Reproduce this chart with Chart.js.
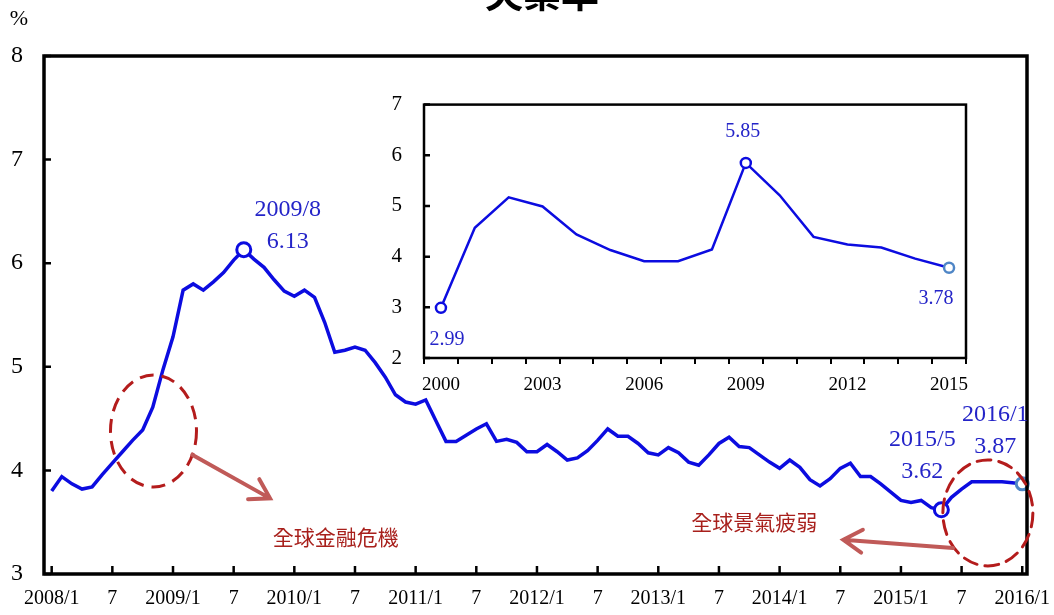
<!DOCTYPE html>
<html>
<head>
<meta charset="utf-8">
<script src="https://cdn.jsdelivr.net/npm/chart.js@4.4.1/dist/chart.umd.min.js"></script>
<style>
  html, body { margin: 0; padding: 0; background: #ffffff; }
  #wrap { position: relative; width: 1054px; height: 615px; overflow: hidden; background: #ffffff; }
  #main { position: absolute; left: 0; top: 0; }
  #inset { position: absolute; left: 370px; top: 70px; }
</style>
</head>
<body>
<div id="wrap">
  <canvas id="main" width="1054" height="615"></canvas>
  <canvas id="inset" width="620" height="340"></canvas>
</div>
<script>
// ---- Monthly unemployment rate (%), 2008/1 – 2016/1 ----
const tickLabels = ['2008/1','7','2009/1','7','2010/1','7','2011/1','7','2012/1','7',
                    '2013/1','7','2014/1','7','2015/1','7','2016/1'];
const monthlyRate = [
  3.80, 3.94, 3.87, 3.82, 3.84, 3.96, 4.07, 4.18, 4.29, 4.39, 4.61, 4.97,   // 2008
  5.29, 5.74, 5.80, 5.74, 5.82, 5.91, 6.03, 6.13, 6.04, 5.96, 5.84, 5.73,   // 2009
  5.68, 5.74, 5.67, 5.43, 5.14, 5.16, 5.19, 5.16, 5.04, 4.90, 4.73, 4.66,   // 2010
  4.64, 4.68, 4.48, 4.28, 4.28, 4.34, 4.40, 4.45, 4.28, 4.30, 4.27, 4.18,   // 2011
  4.18, 4.25, 4.18, 4.10, 4.12, 4.19, 4.29, 4.40, 4.33, 4.33, 4.26, 4.17,   // 2012
  4.15, 4.22, 4.17, 4.08, 4.05, 4.15, 4.26, 4.32, 4.23, 4.22, 4.15, 4.08,   // 2013
  4.02, 4.10, 4.03, 3.91, 3.85, 3.92, 4.02, 4.07, 3.94, 3.94, 3.87, 3.79,   // 2014
  3.71, 3.69, 3.71, 3.64, 3.62, 3.74, 3.82, 3.89, 3.89, 3.89, 3.89, 3.88,   // 2015
  3.87                                                                      // 2016/1
];
const startYear = 2008;
const highlightMonths = ['2009/8', '2015/5', '2016/1'];

// ---- Annual averages (%), 2000 – 2015 ----
const years = [2000, 2001, 2002, 2003, 2004, 2005, 2006, 2007,
               2008, 2009, 2010, 2011, 2012, 2013, 2014, 2015];
const annualRate = [2.99, 4.57, 5.17, 4.99, 4.44, 4.13, 3.91, 3.91,
                    4.14, 5.85, 5.21, 4.39, 4.24, 4.18, 3.96, 3.78];
const highlightYears = [2000, 2009, 2015];

// ---- Styling ----
const BLUE = '#0c0ce0';
const LABEL_BLUE = '#2424c8';
const LIGHT_BLUE = '#4f86c6';
const SERIF = '"Liberation Serif", "Times New Roman", serif';
const CJK = '"Noto Sans CJK TC", "Noto Sans CJK SC", sans-serif';

const monthIndex = s => {
  const [y, m] = s.split('/').map(Number);
  return (y - startYear) * 12 + (m - 1);
};
const hlIdx = highlightMonths.map(monthIndex);

// callout text placement (pixel offsets from the marked point)
const mainCallouts = [
  { idx: hlIdx[0], dx: 44, dy: -40, color: LABEL_BLUE },
  { idx: hlIdx[1], dx: -19, dy: -70, color: LABEL_BLUE },
  { idx: hlIdx[2], dx: -27, dy: -69, color: LABEL_BLUE }
];

// event notes: dashed ring, arrow and caption, anchored in data units
const eventNotes = [
  { text: '全球金融危機', ring: { m: 10.07, v: 4.38, rx: 43, ry: 56 },
    arrow: { from: [13.9, 4.15], to: [21.6, 3.73] }, label: { m: 28.1, v: 3.36 } },
  { text: '全球景氣疲弱', ring: { m: 92.6, v: 3.59, rx: 45, ry: 53 },
    arrow: { from: [89.15, 3.25], to: [78.3, 3.33] }, label: { m: 69.5, v: 3.50 } }
];

// ---- shared plugins ----
const framePlugin = {
  id: 'frame',
  afterDraw(chart, args, opts) {
    const { ctx, chartArea: a } = chart;
    ctx.save();
    ctx.strokeStyle = '#000';
    ctx.lineWidth = opts.width || 3;
    ctx.strokeRect(a.left, a.top, a.right - a.left, a.bottom - a.top);
    ctx.restore();
  }
};

const inwardTicksPlugin = {
  id: 'inwardTicks',
  afterDraw(chart, args, opts) {
    const { ctx, chartArea: a } = chart;
    ctx.save();
    ctx.strokeStyle = '#000';
    ctx.lineWidth = opts.width || 2;
    ctx.beginPath();
    if (opts.x) {
      const xs = chart.scales.x;
      xs.ticks.forEach(t => {
        const px = xs.getPixelForValue(t.value);
        ctx.moveTo(px, a.bottom);
        ctx.lineTo(px, a.bottom - opts.x);
      });
    }
    if (opts.y) {
      const ys = chart.scales.y;
      ys.ticks.forEach(t => {
        const py = ys.getPixelForValue(t.value);
        ctx.moveTo(a.left, py);
        ctx.lineTo(a.left + opts.y, py);
      });
    }
    ctx.stroke();
    ctx.restore();
  }
};

function drawArrow(ctx, x0, y0, x1, y1, head) {
  const ang = Math.atan2(y1 - y0, x1 - x0);
  ctx.beginPath();
  ctx.moveTo(x0, y0);
  ctx.lineTo(x1, y1);
  ctx.moveTo(x1 - head * Math.cos(ang - 0.55), y1 - head * Math.sin(ang - 0.55));
  ctx.lineTo(x1, y1);
  ctx.lineTo(x1 - head * Math.cos(ang + 0.55), y1 - head * Math.sin(ang + 0.55));
  ctx.stroke();
}

// ---- main chart decorations ----
const mainNotesPlugin = {
  id: 'mainNotes',
  afterDraw(chart) {
    const { ctx } = chart;
    const xs = chart.scales.x, ys = chart.scales.y;
    ctx.save();

    // title and unit
    ctx.fillStyle = '#000';
    ctx.font = `bold 38px ${CJK}`;
    ctx.textAlign = 'center';
    ctx.textBaseline = 'alphabetic';
    ctx.fillText('失業率', 542, 7);
    ctx.font = `22px ${SERIF}`;
    ctx.textBaseline = 'middle';
    ctx.fillText('%', 19, 19);

    // event rings, arrows, captions
    eventNotes.forEach(n => {
      const cx = xs.getPixelForValue(n.ring.m), cy = ys.getPixelForValue(n.ring.v);
      ctx.strokeStyle = '#b41c1c';
      ctx.lineWidth = 3;
      ctx.setLineDash([14, 8]);
      ctx.beginPath();
      ctx.ellipse(cx, cy, n.ring.rx, n.ring.ry, 0, 0, Math.PI * 2);
      ctx.stroke();
      ctx.setLineDash([]);

      ctx.strokeStyle = '#c05a58';
      ctx.lineWidth = 4;
      ctx.lineCap = 'round';
      drawArrow(ctx,
        xs.getPixelForValue(n.arrow.from[0]), ys.getPixelForValue(n.arrow.from[1]),
        xs.getPixelForValue(n.arrow.to[0]), ys.getPixelForValue(n.arrow.to[1]), 22);

      ctx.fillStyle = '#a8201c';
      ctx.font = `21px ${CJK}`;
      ctx.textAlign = 'center';
      ctx.textBaseline = 'middle';
      ctx.fillText(n.text, xs.getPixelForValue(n.label.m), ys.getPixelForValue(n.label.v));
    });

    // callouts on the marked months
    ctx.font = `24px ${SERIF}`;
    ctx.textAlign = 'center';
    ctx.textBaseline = 'middle';
    mainCallouts.forEach(c => {
      const px = xs.getPixelForValue(c.idx), py = ys.getPixelForValue(monthlyRate[c.idx]);
      const y = startYear + Math.floor(c.idx / 12), m = c.idx % 12 + 1;
      ctx.fillStyle = c.color;
      ctx.fillText(`${y}/${m}`, px + c.dx, py + c.dy);
      ctx.fillText(monthlyRate[c.idx].toFixed(2), px + c.dx, py + c.dy + 32);
    });
    ctx.restore();
  }
};

new Chart(document.getElementById('main'), {
  type: 'line',
  data: {
    datasets: [{
      data: monthlyRate.map((v, i) => ({ x: i, y: v })),
      borderColor: BLUE,
      borderWidth: 3.5,
      tension: 0,
      clip: false,
      pointRadius: c => (hlIdx.includes(c.dataIndex) ? (c.dataIndex === hlIdx[2] ? 6 : 7) : 0),
      pointBorderWidth: 3,
      pointBackgroundColor: '#ffffff',
      pointBorderColor: c => (c.dataIndex === hlIdx[2] ? LIGHT_BLUE : BLUE),
      pointHoverRadius: 0
    }]
  },
  options: {
    responsive: false,
    animation: false,
    events: [],
    layout: { padding: { left: 0, right: 27, top: 56, bottom: 0 } },
    plugins: {
      legend: { display: false },
      tooltip: { enabled: false },
      frame: { width: 3.5 },
      inwardTicks: { x: 8, y: 7, width: 2.5 }
    },
    scales: {
      x: {
        type: 'linear',
        min: -0.76,
        max: 96.47,
        border: { display: false },
        grid: { display: false, drawTicks: false },
        afterBuildTicks: s => { s.ticks = tickLabels.map((_, i) => ({ value: i * 6 })); },
        afterFit: s => { s.height = 41; s.paddingLeft = 0; s.paddingRight = 0; },
        ticks: {
          autoSkip: false,
          maxRotation: 0,
          padding: 13,
          color: '#000',
          font: { family: SERIF, size: 20 },
          callback: (v, i) => tickLabels[i]
        }
      },
      y: {
        min: 3,
        max: 8,
        border: { display: false },
        grid: { display: false, drawTicks: false },
        afterFit: s => { s.width = 44; },
        ticks: {
          stepSize: 1,
          padding: 21,
          color: '#000',
          font: { family: SERIF, size: 24 }
        }
      }
    }
  },
  plugins: [framePlugin, inwardTicksPlugin, mainNotesPlugin]
});

// ---- inset: annual averages ----
const insetCallouts = [
  { year: 2000, dx: 6, dy: 32 },
  { year: 2009, dx: -3, dy: -31 },
  { year: 2015, dx: -13, dy: 31 }
];
const insetNotesPlugin = {
  id: 'insetNotes',
  afterDraw(chart) {
    const { ctx } = chart;
    const xs = chart.scales.x, ys = chart.scales.y;
    ctx.save();
    ctx.font = `20px ${SERIF}`;
    ctx.fillStyle = LABEL_BLUE;
    ctx.textAlign = 'center';
    ctx.textBaseline = 'middle';
    insetCallouts.forEach(c => {
      const i = years.indexOf(c.year);
      const px = xs.getPixelForValue(i), py = ys.getPixelForValue(annualRate[i]);
      ctx.fillText(annualRate[i].toFixed(2), px + c.dx, py + c.dy);
    });
    ctx.restore();
  }
};
const hlYearIdx = highlightYears.map(y => years.indexOf(y));

new Chart(document.getElementById('inset'), {
  type: 'line',
  data: {
    labels: years.map(String),
    datasets: [{
      data: annualRate,
      borderColor: BLUE,
      borderWidth: 2.5,
      tension: 0,
      clip: false,
      pointRadius: c => (hlYearIdx.includes(c.dataIndex) ? 5 : 0),
      pointBorderWidth: 2.5,
      pointBackgroundColor: '#ffffff',
      pointBorderColor: c => (c.dataIndex === hlYearIdx[2] ? LIGHT_BLUE : BLUE),
      pointHoverRadius: 0
    }]
  },
  options: {
    responsive: false,
    animation: false,
    events: [],
    layout: { padding: { left: 0, right: 24, top: 14, bottom: 0 } },
    plugins: {
      legend: { display: false },
      tooltip: { enabled: false },
      frame: { width: 2.5 },
      inwardTicks: { y: 6, width: 2.5 }
    },
    scales: {
      x: {
        type: 'category',
        offset: true,
        border: { display: false },
        grid: { offset: true, drawOnChartArea: false, drawTicks: true, tickLength: 6, color: '#000', lineWidth: 2 },
        afterFit: s => { s.height = 52; s.paddingLeft = 0; s.paddingRight = 0; },
        ticks: {
          autoSkip: false,
          maxRotation: 0,
          padding: 10,
          color: '#000',
          font: { family: SERIF, size: 19 },
          callback: (v, i) => ((years[i] - years[0]) % 3 === 0 ? String(years[i]) : '')
        }
      },
      y: {
        min: 2,
        max: 7,
        border: { display: false },
        grid: { display: false, drawTicks: false },
        afterFit: s => { s.width = 54; },
        ticks: {
          stepSize: 1,
          padding: 22,
          color: '#000',
          font: { family: SERIF, size: 21 }
        }
      }
    }
  },
  plugins: [framePlugin, inwardTicksPlugin, insetNotesPlugin]
});
</script>
</body>
</html>
